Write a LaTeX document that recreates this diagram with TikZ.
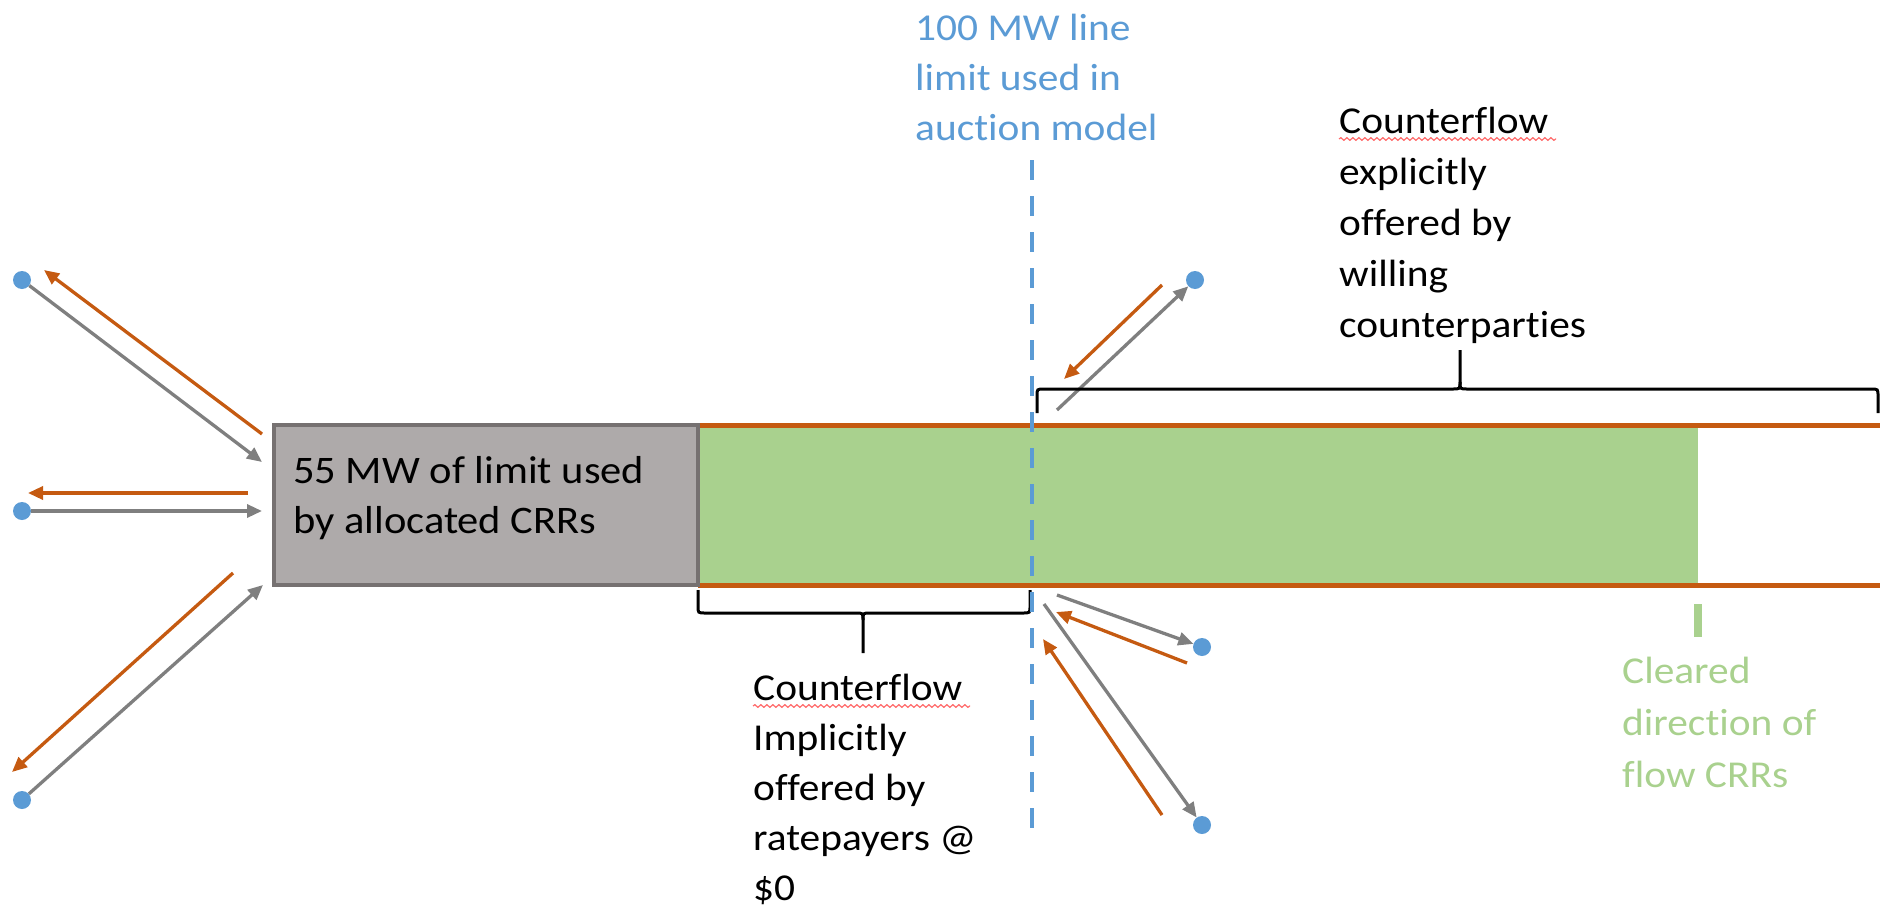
\documentclass[tikz,border=0pt]{standalone}
\usepackage{fontspec}
\setmainfont{Carlito}[FakeStretch=1.09,Ligatures=NoCommon]
\usetikzlibrary{arrows.meta,decorations.pathmorphing}
\definecolor{cOrange}{HTML}{C55A11}
\definecolor{cGray}{HTML}{7F7F7F}
\definecolor{cBlue}{HTML}{5B9BD5}
\definecolor{cGreen}{HTML}{A9D18E}
\definecolor{cBoxFill}{HTML}{AEAAAA}
\definecolor{cBoxLine}{HTML}{767171}
\definecolor{cSpell}{HTML}{FF6B6B}
\tikzset{
  dot/.style={circle,fill=cBlue,minimum size=18pt,inner sep=0pt},
  grayarrow/.style={draw=cGray,line width=3.3pt,-{Triangle[length=15pt,width=13pt]}},
  orangearrow/.style={draw=cOrange,line width=3.3pt,-{Triangle[length=15pt,width=13pt]}},
  brace/.style={draw=black,line width=3pt},
  label/.style={anchor=base west,inner sep=0pt,align=left},
  spell/.style={draw=cSpell,line width=1.2pt,decorate,decoration={snake,segment length=6pt,amplitude=1.3pt}}
}
\begin{document}
\begin{tikzpicture}[x=1pt,y=-1pt]
\useasboundingbox (0,0) rectangle (1880,910);
% green bar and rails
\fill[cGreen] (698,426) rectangle (1698,584);
\draw[cOrange,line width=5pt] (698,425) -- (1880,425);
\draw[cOrange,line width=5pt] (698,585) -- (1880,585);
% grey box
\node[draw=cBoxLine,fill=cBoxFill,line width=4.5pt,minimum width=424pt,minimum height=160pt,inner sep=0pt] (box) at (486,505) {};
\node[label,font=\fontsize{39}{50}\selectfont] (boxtext) at (293,533) {55 MW of limit used\\by allocated CRRs};
% green tick
\fill[cGreen] (1694,604) rectangle (1702,637);
% dots
\node[dot] (dA) at (22,280) {};
\node[dot] (dB) at (22,511) {};
\node[dot] (dC) at (22,800) {};
\node[dot] (dD) at (1195,280) {};
\node[dot] (dE) at (1202,647) {};
\node[dot] (dF) at (1202,825) {};
% coordinates
\coordinate (gA) at (262,462);
\coordinate (oA1) at (262,434); \coordinate (oA2) at (44,270);
\coordinate (gB) at (262,511);
\coordinate (oB1) at (248,493); \coordinate (oB2) at (28,493);
\coordinate (gC) at (263,585);
\coordinate (oC1) at (233,573); \coordinate (oC2) at (12,772);
\coordinate (gD) at (1057,410);
\coordinate (oD1) at (1162,285); \coordinate (oD2) at (1064,379);
\coordinate (gE) at (1057,595);
\coordinate (oE1) at (1187,663); \coordinate (oE2) at (1056,612);
\coordinate (gF) at (1044,604);
\coordinate (oF1) at (1162,815); \coordinate (oF2) at (1043,639);
% left arrows
\draw[grayarrow] (dA) -- (gA);
\draw[orangearrow] (oA1) -- (oA2);
\draw[grayarrow] (dB) -- (gB);
\draw[orangearrow] (oB1) -- (oB2);
\draw[grayarrow] (dC) -- (gC);
\draw[orangearrow] (oC1) -- (oC2);
% right arrows
\draw[grayarrow] (gD) -- (dD);
\draw[orangearrow] (oD1) -- (oD2);
\draw[grayarrow] (gE) -- (dE);
\draw[orangearrow] (oE1) -- (oE2);
\draw[grayarrow] (gF) -- (dF);
\draw[orangearrow] (oF1) -- (oF2);
% braces
\draw[brace] (1037,413) -- (1037,396) .. controls (1037,389) .. (1044,389) -- (1453,389) .. controls (1460,389) .. (1460,382) -- (1460,350);
\draw[brace] (1878,413) -- (1878,396) .. controls (1878,389) .. (1871,389) -- (1467,389) .. controls (1460,389) .. (1460,382);
\draw[brace] (698,590) -- (698,606) .. controls (698,613) .. (705,613) -- (856,613) .. controls (863,613) .. (863,620) -- (863,653);
\draw[brace] (1030,590) -- (1030,606) .. controls (1030,613) .. (1023,613) -- (870,613) .. controls (863,613) .. (863,620);
% dashed limit line
\coordinate (lt) at (1032,160);
\coordinate (lb) at (1032,840);
\draw[cBlue,line width=4pt,dash pattern=on 20pt off 16pt] (lt) -- (lb);
% texts
\node[label,text=cBlue,font=\fontsize{38}{50}\selectfont] (limittext) at (915,140) {100 MW line\\limit used in\\auction model};
\node[label,font=\fontsize{38}{51}\selectfont] (uppertext) at (1339,337) {Counterflow\\explicitly\\offered by\\willing\\counterparties};
\node[label,font=\fontsize{38}{50}\selectfont] (lowertext) at (753,900) {Counterflow\\Implicitly\\offered by\\ratepayers @\\\$0};
\node[label,text=cGreen,font=\fontsize{38}{52}\selectfont] (greentext) at (1622,787) {Cleared\\direction of\\flow CRRs};
% spell-check underlines
\draw[spell] (1339,139) -- (1556,139);
\draw[spell] (753,706) -- (970,706);
\end{tikzpicture}
\end{document}
